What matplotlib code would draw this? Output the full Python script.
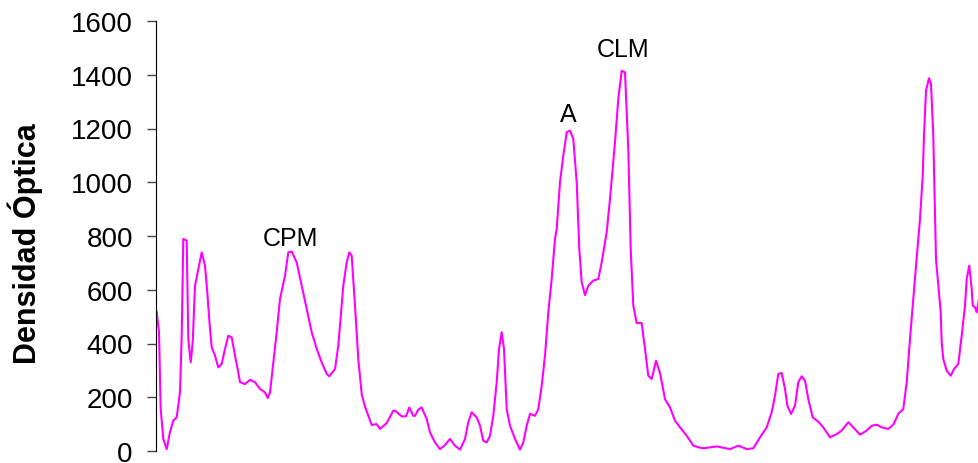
import numpy as np
import matplotlib
matplotlib.use("Agg")
import matplotlib.pyplot as plt

posicion = [0.7, 3, 4.7, 7.3, 10.7, 14, 17.3, 20.7, 24, 25.7, 27.3, 30.7, 32.3, 34.7, 36.7,
            39, 42.3, 45.7, 49, 51.3, 54, 55.7, 59, 62.3, 65.7, 69, 72.3, 75.7, 79, 82.3,
            84, 89, 94, 99, 104, 109, 111.7, 114, 117.3, 120.7, 124, 129, 132.3, 135.7, 140.7,
            145.7, 150.7, 155.7, 160.7, 165.7, 170.7, 173.3, 179, 182.3, 187.3, 190.7, 193.3, 195.7, 199,
            202.3, 205.7, 209, 212.3, 215.7, 220.7, 224, 230.7, 237.3, 239, 245.7, 250, 253.3, 257.3,
            259, 262.3, 265.7, 270.7, 274, 279, 284, 289, 294, 299, 304, 309, 312.3, 315.7,
            320.7, 324, 327.3, 330.7, 334, 337.3, 340.7, 343, 345.7, 348, 350.7, 354, 359, 364,
            367.3, 370.7, 374, 379, 382.3, 385.7, 389, 392.3, 395.7, 399, 400.7, 404, 407.3, 410.7,
            414, 417.3, 420.7, 423.3, 425.7, 429, 432.3, 437.3, 442.3, 445.7, 450.7, 454, 459, 462.3,
            465.7, 469, 472.3, 474.7, 477.3, 480.7, 485.7, 489, 492.3, 495.7, 500, 504, 509, 514,
            519, 524, 530.7, 537.3, 542.3, 547.3, 560.7, 574, 582.3, 590.7, 597.3, 604, 610.7, 615.7,
            619, 622.3, 625.7, 629, 631.3, 635, 639, 642.3, 645.7, 649, 652.3, 656.7, 662.3, 667.3,
            674, 680.7, 685.7, 692.3, 697.3, 704, 710.7, 715.7, 720.7, 725.7, 732.3, 737.3, 742.3, 747.3,
            750.7, 754, 757.3, 760.7, 764, 766.7, 768, 770, 773, 775, 777.3, 779, 780, 782.3,
            784.7, 785.7, 787.3, 790.7, 794.7, 798, 802.3, 805.7, 809, 810.7, 813.3, 815.7, 816.7, 819,
            820.7, 823]
densidad = [517, 443, 156, 45, 7, 71, 113, 125, 219, 429, 789, 783, 417, 330, 404,
            615, 677, 739, 690, 590, 454, 386, 355, 311, 324, 380, 429, 423, 355, 293,
            256, 249, 265, 256, 231, 218, 197, 218, 330, 442, 566, 652, 739, 742, 702,
            615, 528, 442, 380, 330, 287, 278, 305, 392, 615, 702, 739, 727, 541,
            342, 212, 165, 131, 97, 100, 82, 104, 150, 150, 129, 129, 162, 131,
            131, 154, 162, 119, 69, 32, 7, 22, 45, 20, 5, 45, 107, 144,
            125, 94, 38, 32, 57, 131, 256, 380, 442, 380, 156, 94, 45, 5,
            32, 94, 138, 131, 156, 243, 355, 516, 640, 789, 826, 1000, 1099, 1186,
            1192, 1161, 1000, 752, 628, 580, 615, 634, 640, 702, 814, 938, 1149, 1310,
            1415, 1409, 1124, 752, 541, 476, 476, 380, 280, 268, 336, 290, 193, 162,
            113, 88, 57, 20, 14, 10, 17, 7, 20, 7, 10, 51, 88, 144,
            206, 287, 290, 231, 169, 138, 169, 256, 278, 262, 193, 125, 109, 88,
            51, 63, 76, 107, 88, 61, 76, 94, 98, 88, 82, 98, 138, 156,
            256, 417, 566, 720, 863, 1024, 1173, 1341, 1387, 1366, 1173, 888, 714, 615,
            516, 404, 342, 299, 280, 305, 324, 429, 541, 640, 690, 603, 541, 535,
            516, 566]

etiquetas = ["CPM", "A", "CLM"]
etiq_x = [134, 412.7, 467.5]
etiq_y = [766, 1228, 1470]

plt.rcParams['font.family'] = ['Liberation Sans', 'DejaVu Sans']

fig = plt.figure(figsize=(9.79, 4.64), dpi=100)
ax = fig.add_axes([156/979, 12/464, 823/979, 430/464])

ax.plot(posicion, densidad, color='#FF00FF', linewidth=1.5)

for t, x, y in zip(etiquetas, etiq_x, etiq_y):
    ax.text(x, y, t, ha='center', va='baseline', fontsize=18)

ax.set_xlim(0, 823)
ax.set_ylim(0, 1600)
ax.set_yticks(np.arange(0, 1601, 200))
ax.set_xticks([])
ax.tick_params(axis='y', direction='out', length=6.7, width=1, color='#444444',
               labelsize=20, pad=10)
for s in ['top', 'right', 'bottom']:
    ax.spines[s].set_visible(False)
ax.spines['left'].set_color('black')

ax.set_ylabel('Densidad Óptica', fontsize=22, fontweight='bold')
ax.yaxis.set_label_coords((43 - 156) / 823, 0.485)

fig.savefig('out.png', dpi=100)
